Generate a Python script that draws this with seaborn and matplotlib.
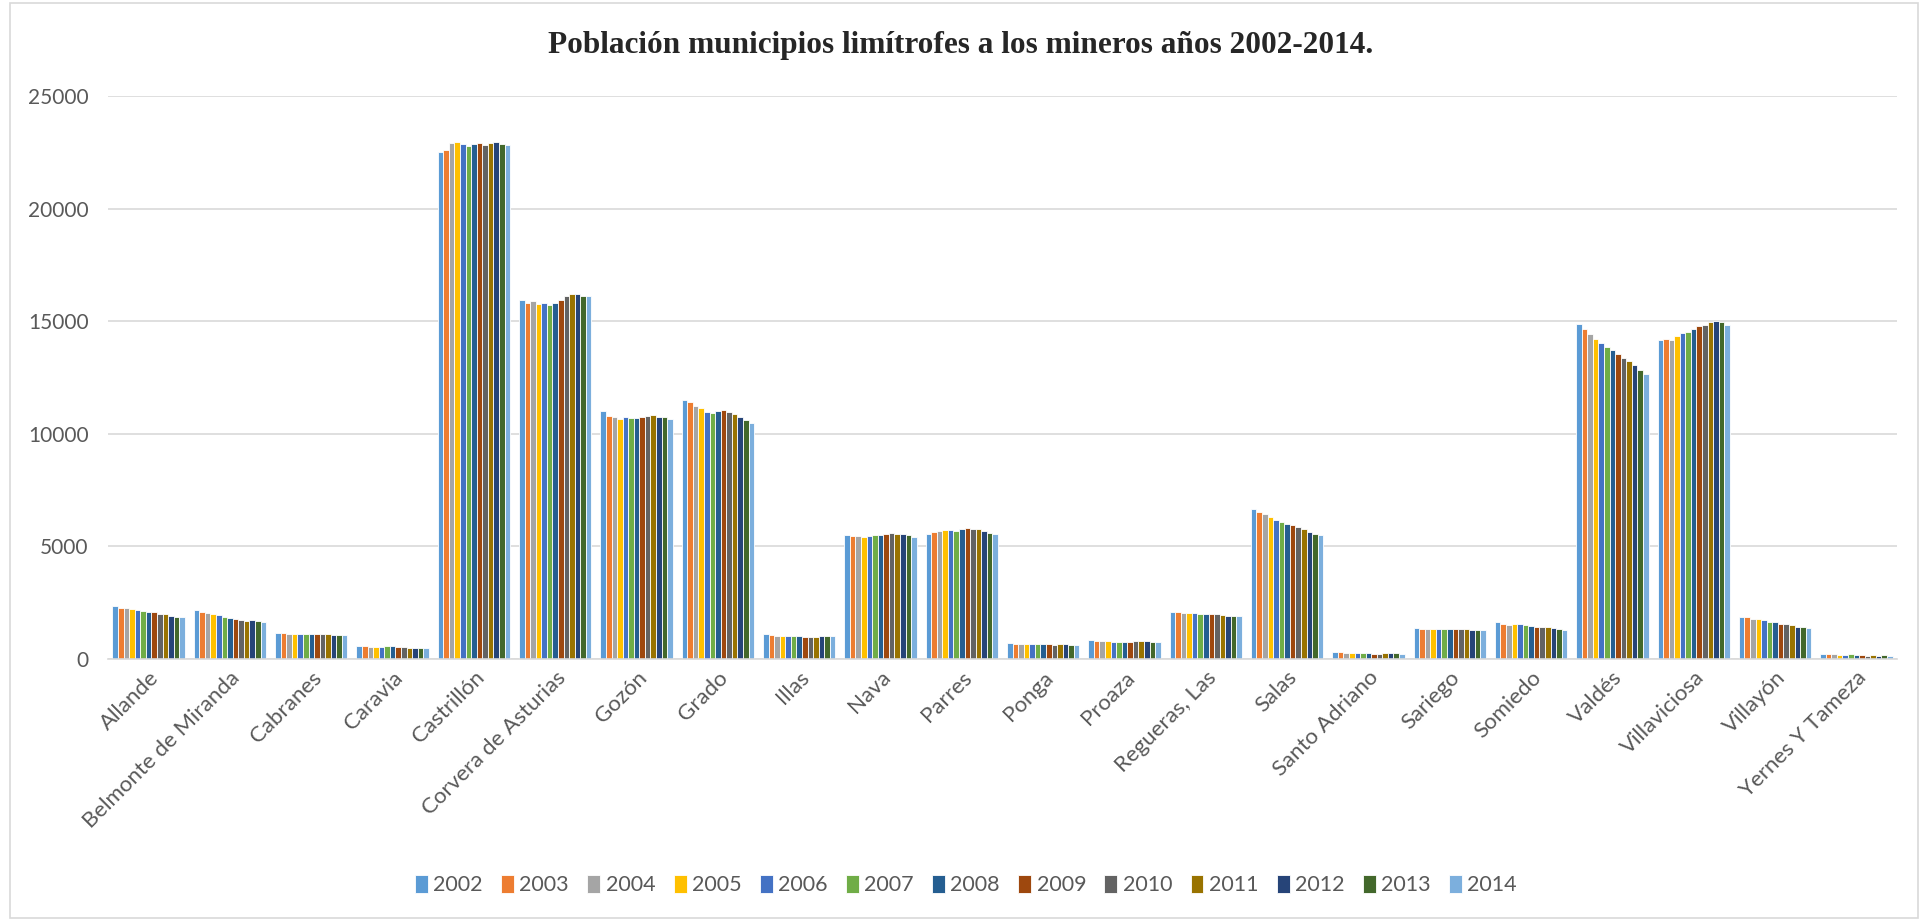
import pandas as pd
import matplotlib.pyplot as plt
import seaborn as sns
from matplotlib.patches import Rectangle

years = ['2002', '2003', '2004', '2005', '2006', '2007', '2008',
         '2009', '2010', '2011', '2012', '2013', '2014']

municipios = ['Allande', 'Belmonte de Miranda', 'Cabranes', 'Caravia', 'Castrillón',
              'Corvera de Asturias', 'Gozón', 'Grado', 'Illas', 'Nava', 'Parres',
              'Ponga', 'Proaza', 'Regueras, Las', 'Salas', 'Santo Adriano', 'Sariego',
              'Somiedo', 'Valdés', 'Villaviciosa', 'Villayón', 'Yernes Y Tameza']

# population per municipality, 2002 -> 2014
allande = [2360, 2280, 2250, 2220, 2160, 2150, 2100, 2070, 2020, 2000, 1920, 1880, 1850]
belmonte = [2190, 2100, 2030, 2000, 1950, 1880, 1830, 1780, 1745, 1700, 1725, 1695, 1645]
cabranes = [1170, 1135, 1100, 1100, 1100, 1100, 1100, 1100, 1100, 1100, 1070, 1085, 1050]
caravia = [560, 560, 545, 545, 530, 560, 560, 530, 530, 510, 510, 495, 490]
castrillon = [22530, 22610, 22900, 22950, 22850, 22780, 22850, 22900, 22830, 22900, 22970, 22850, 22815]
corvera = [15955, 15800, 15900, 15770, 15790, 15735, 15790, 15955, 16110, 16225, 16225, 16140, 16140]
gozon = [11010, 10790, 10740, 10670, 10740, 10720, 10720, 10740, 10790, 10840, 10740, 10740, 10655]
grado = [11520, 11415, 11230, 11130, 10990, 10940, 11025, 11060, 10990, 10890, 10740, 10600, 10485]
illas = [1100, 1085, 1035, 1000, 1000, 1000, 1000, 990, 990, 990, 1010, 1010, 1010]
nava = [5500, 5470, 5440, 5430, 5440, 5490, 5515, 5560, 5590, 5560, 5560, 5490, 5400]
parres = [5545, 5620, 5680, 5710, 5710, 5690, 5765, 5795, 5765, 5765, 5680, 5575, 5545]
ponga = [710, 680, 680, 680, 665, 665, 650, 665, 635, 665, 665, 635, 620]
proaza = [840, 795, 780, 780, 750, 750, 750, 765, 780, 795, 795, 750, 750]
regueras = [2080, 2070, 2060, 2060, 2030, 2000, 2010, 2000, 1980, 1965, 1930, 1915, 1910]
salas = [6670, 6520, 6435, 6300, 6165, 6065, 5995, 5930, 5875, 5775, 5640, 5555, 5490]
santo_adriano = [305, 290, 270, 265, 265, 260, 245, 235, 235, 245, 245, 245, 230]
sariego = [1355, 1340, 1350, 1350, 1320, 1320, 1320, 1320, 1320, 1320, 1305, 1290, 1290]
somiedo = [1625, 1540, 1525, 1560, 1540, 1490, 1455, 1440, 1405, 1405, 1355, 1320, 1270]
valdes = [14855, 14635, 14415, 14210, 14040, 13840, 13705, 13535, 13365, 13245, 13040, 12855, 12635]
villaviciosa = [14175, 14230, 14175, 14365, 14465, 14515, 14635, 14770, 14835, 14955, 14990, 14975, 14820]
villayon = [1880, 1845, 1795, 1760, 1710, 1660, 1625, 1575, 1540, 1525, 1440, 1425, 1390]
yernes = [200, 200, 200, 185, 185, 200, 185, 170, 150, 170, 150, 170, 150]

series = [allande, belmonte, cabranes, caravia, castrillon, corvera, gozon, grado,
          illas, nava, parres, ponga, proaza, regueras, salas, santo_adriano, sariego,
          somiedo, valdes, villaviciosa, villayon, yernes]

colores = ['#5B9BD5', '#ED7D31', '#A5A5A5', '#FFC000', '#4472C4', '#70AD47', '#255E91',
           '#9E480E', '#636363', '#997300', '#264478', '#43682B', '#7CAFDD']

rows = []
for mun, vals in zip(municipios, series):
    for y, v in zip(years, vals):
        rows.append({'Municipio': mun, 'Año': y, 'Población': v})
df = pd.DataFrame(rows)

sns.set_style('white')
plt.rcParams['font.family'] = ['Lato', 'DejaVu Sans']

fig = plt.figure(figsize=(19.32, 9.21), dpi=100)
ax = fig.add_axes([108 / 1932, 1 - 659 / 921, (1897 - 108) / 1932, (659 - 96) / 921])

sns.barplot(data=df, x='Municipio', y='Población', hue='Año', order=municipios,
            hue_order=years, palette=colores, width=0.89, edgecolor='white',
            linewidth=0.6, saturation=1, ax=ax)

ax.set_ylim(0, 25000)
ax.set_yticks([0, 5000, 10000, 15000, 20000, 25000])
ax.yaxis.grid(True, color='#D9D9D9', linewidth=1.2)
ax.set_axisbelow(True)
ax.set_xlabel('')
ax.set_ylabel('')
for s in ['top', 'right', 'left']:
    ax.spines[s].set_visible(False)
ax.spines['bottom'].set_color('#D9D9D9')
ax.spines['bottom'].set_linewidth(1.2)
ax.tick_params(axis='both', length=0, labelcolor='#595959')
ax.tick_params(axis='y', pad=14, labelsize=15)
ax.tick_params(axis='x', pad=6, labelsize=16)
plt.setp(ax.get_xticklabels(), rotation=45, ha='right', rotation_mode='anchor')

ax.legend(loc='center', bbox_to_anchor=(0.5, 1 - 885 / 921), bbox_transform=fig.transFigure,
          ncol=13, frameon=False, fontsize=15.5, labelcolor='#595959',
          handlelength=0.6, handleheight=0.9, handletextpad=0.25, columnspacing=0.85)

fig.text(961 / 1932, 1 - 46 / 921,
         'Población municipios limítrofes a los mineros años 2002-2014.',
         ha='center', va='center', fontsize=22.5, fontweight='bold',
         family=['Liberation Serif', 'DejaVu Serif'])

fig.patches.append(Rectangle((10 / 1932, 3 / 921), 1918 / 1932 - 10 / 1932, 915 / 921,
                             transform=fig.transFigure, fill=False,
                             edgecolor='#D9D9D9', linewidth=1.2))

fig.savefig('out.png', dpi=100)
